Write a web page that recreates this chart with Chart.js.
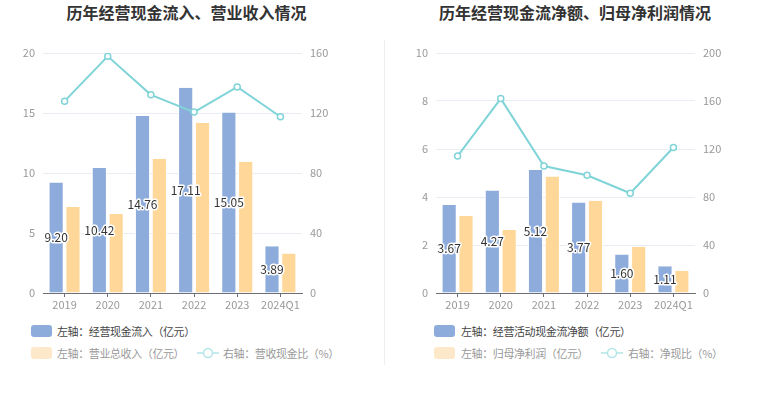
<!DOCTYPE html>
<html><head><meta charset="utf-8">
<script src="https://cdn.jsdelivr.net/npm/chart.js@4/dist/chart.umd.min.js"></script>
<style>
body{margin:0;background:#fff;width:765px;height:393px;overflow:hidden;position:relative;font-family:"Noto Sans CJK SC","Noto Sans",sans-serif;}
.title{position:absolute;top:0px;font-size:16px;font-weight:bold;color:#333;text-align:center;white-space:nowrap;line-height:24px;}
.cw{position:absolute;top:0;}
.divider{position:absolute;left:384px;top:40px;width:1px;height:325px;background:#eeeeee;}
.lg{position:absolute;font-size:11px;letter-spacing:-0.4px;white-space:nowrap;line-height:14px;}
.box{position:absolute;width:21px;height:12px;border-radius:3px;}
.ln{position:absolute;width:22px;height:12px;}
</style></head><body>
<div class="title" style="left:0;width:373px;">历年经营现金流入、营业收入情况</div>
<div class="title" style="left:385px;width:380px;">历年经营现金流净额、归母净利润情况</div>
<div class="divider"></div>
<div class="cw" style="left:0;width:383px;height:320px;"><canvas id="c1"></canvas></div>
<div class="cw" style="left:385px;width:380px;height:320px;"><canvas id="c2"></canvas></div>

<div class="box" style="left:31px;top:325px;background:#8dacdc;"></div>
<div class="lg" style="left:57px;top:324px;color:#444;">左轴：经营现金流入（亿元）</div>
<div class="box" style="left:31px;top:347px;background:#fde9c9;"></div>
<div class="lg" style="left:57px;top:346px;color:#999;">左轴：营业总收入（亿元）</div>
<svg class="ln" style="left:197px;top:347px;" viewBox="0 0 22 12"><line x1="0" y1="6" x2="22" y2="6" stroke="#b3e5e8" stroke-width="1.5"/><circle cx="11" cy="6" r="4.5" fill="#fff" stroke="#b3e5e8" stroke-width="1.5"/></svg>
<div class="lg" style="left:223px;top:346px;color:#999;">右轴：营收现金比（%）</div>

<div class="box" style="left:434px;top:325px;background:#8dacdc;"></div>
<div class="lg" style="left:461px;top:324px;color:#444;">左轴：经营活动现金流净额（亿元）</div>
<div class="box" style="left:434px;top:347px;background:#fde9c9;"></div>
<div class="lg" style="left:461px;top:346px;color:#999;">左轴：归母净利润（亿元）</div>
<svg class="ln" style="left:601px;top:347px;" viewBox="0 0 22 12"><line x1="0" y1="6" x2="22" y2="6" stroke="#b3e5e8" stroke-width="1.5"/><circle cx="11" cy="6" r="4.5" fill="#fff" stroke="#b3e5e8" stroke-width="1.5"/></svg>
<div class="lg" style="left:628px;top:346px;color:#999;">右轴：净现比（%）</div>

<script>
const categories = ["2019","2020","2021","2022","2023","2024Q1"];
// Left chart
const cashInflow = [9.20,10.42,14.76,17.11,15.05,3.89];
const revenue = [7.17,6.59,11.19,14.18,10.94,3.30];
const revenueCashRatio = [127.9,157.8,132.1,120.6,137.4,117.5];
const leftTicks1 = [0,5,10,15,20];
const rightTicks1 = [0,40,80,120,160];
// Right chart
const netCashFlow = [3.67,4.27,5.12,3.77,1.60,1.11];
const netProfit = [3.21,2.63,4.85,3.84,1.93,0.93];
const netCashRatio = [114.1,162.0,105.8,98.1,83.1,121.3];
const leftTicks2 = [0,2,4,6,8,10];
const rightTicks2 = [0,40,80,120,160,200];

const FONT = '"Noto Sans CJK SC","Noto Sans",sans-serif';
const BLUE = '#8dacdc', YELLOW = '#ffd899', TEAL = '#80d4d8';

function makeChart(id, bars1, bars2, line, lt, rt, leftW, rightW){
  const lmax = lt[lt.length-1], rmax = rt[rt.length-1];
  return new Chart(document.getElementById(id), {
    type:'bar',
    data:{
      labels:categories,
      datasets:[
        {type:'line', data:line, yAxisID:'y1', borderColor:TEAL, borderWidth:2, pointRadius:3, pointBackgroundColor:'#fff', pointBorderColor:TEAL, pointBorderWidth:1.5, tension:0, order:0},
        {data:bars1, yAxisID:'y', backgroundColor:BLUE, borderColor:'#fff', borderWidth:{left:1,right:1,top:0,bottom:0}, barPercentage:0.9, categoryPercentage:0.78, order:1},
        {data:bars2, yAxisID:'y', backgroundColor:YELLOW, borderColor:'#fff', borderWidth:{left:1,right:1,top:0,bottom:0}, barPercentage:0.9, categoryPercentage:0.78, order:1}
      ]
    },
    options:{
      responsive:true, maintainAspectRatio:false, animation:false,
      layout:{padding:{top:53,bottom:0,left:0,right:0}},
      plugins:{legend:{display:false}, tooltip:{enabled:false}},
      scales:{
        x:{
          grid:{display:true, drawOnChartArea:false, drawTicks:true, tickLength:4, offset:false, color:'#6e7079'},
          border:{color:'#6e7079'},
          ticks:{color:'#999', font:{size:11, family:FONT}, padding:1, maxRotation:0, autoSkip:false},
          afterFit(s){ s.height = 27; }
        },
        y:{
          position:'left', min:0, max:lmax,
          afterBuildTicks(s){ s.ticks = lt.map(v=>({value:v})); },
          grid:{color:'#e8ecf3', drawTicks:false},
          border:{display:false},
          ticks:{color:'#999', font:{size:11, family:FONT}, padding:8},
          afterFit(s){ s.width = leftW; }
        },
        y1:{
          position:'right', min:0, max:rmax,
          afterBuildTicks(s){ s.ticks = rt.map(v=>({value:v})); },
          grid:{display:false, drawTicks:false},
          border:{display:false},
          ticks:{color:'#999', font:{size:11, family:FONT}, padding:8},
          afterFit(s){ s.width = rightW; }
        }
      }
    },
    plugins:[{
      id:'lbl',
      afterDatasetsDraw(chart){
        const ctx = chart.ctx;
        const meta = chart.getDatasetMeta(1);
        ctx.save();
        ctx.font = '12px ' + FONT;
        ctx.textAlign = 'center';
        ctx.textBaseline = 'middle';
        ctx.lineJoin = 'round';
        meta.data.forEach((bar,i)=>{
          const y = (bar.y + bar.base)/2;
          const t = bars1[i].toFixed(2);
          ctx.strokeStyle = '#fff'; ctx.lineWidth = 3;
          ctx.strokeText(t, bar.x, y);
          ctx.fillStyle = '#333';
          ctx.fillText(t, bar.x, y);
        });
        ctx.restore();
      }
    }]
  });
}
makeChart('c1', cashInflow, revenue, revenueCashRatio, leftTicks1, rightTicks1, 43, 81);
makeChart('c2', netCashFlow, netProfit, netCashRatio, leftTicks2, rightTicks2, 51, 70);
</script>
</body></html>
